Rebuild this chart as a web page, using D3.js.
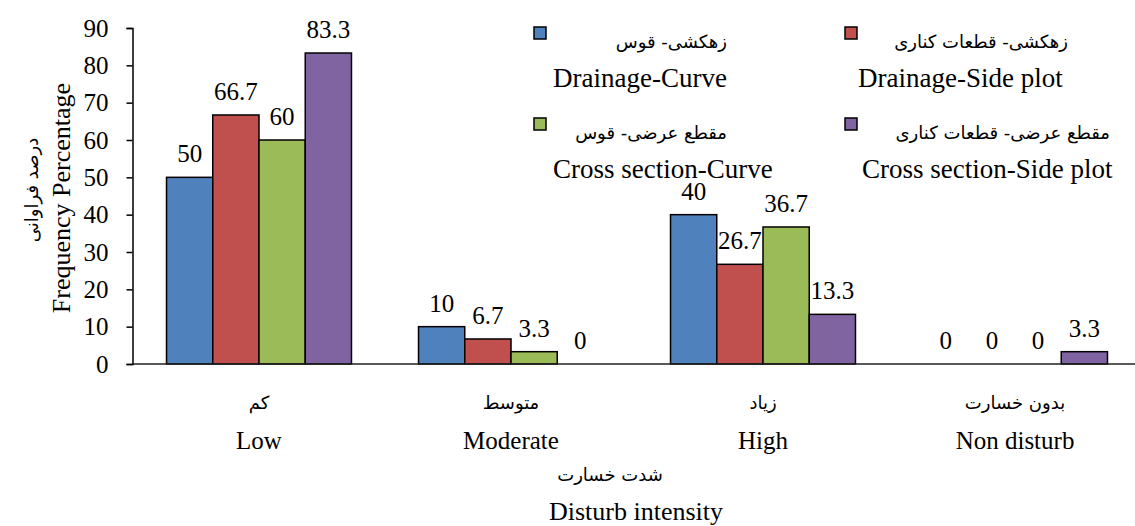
<!DOCTYPE html>
<html>
<head>
<meta charset="utf-8">
<title>Disturb intensity</title>
<script src="https://cdn.jsdelivr.net/npm/d3@7"></script>
<style>
    body { margin: 0; background: #fff; }
    .en { font-family: "Liberation Serif", "Times New Roman", serif; font-size: 25px; fill: #000; }
    .fa { font-family: "DejaVu Sans", sans-serif; font-size: 18px; fill: #000; }
</style>
</head>
<body>
<script>
    var w = 1135, h = 526
    // data
    var categories = ["Low", "Moderate", "High", "Non disturb"]
    var categoriesFa = ["کم", "متوسط", "زیاد", "بدون خسارت"]
    var seriesNames = ["Drainage-Curve", "Drainage-Side plot", "Cross section-Curve", "Cross section-Side plot"]
    var seriesNamesFa = ["زهکشی- قوس", "زهکشی- قطعات کناری", "مقطع عرضی- قوس", "مقطع عرضی- قطعات کناری"]
    var drainageCurve = [50, 10, 40, 0]
    var drainageSide = [66.7, 6.7, 26.7, 0]
    var crossCurve = [60, 3.3, 36.7, 0]
    var crossSide = [83.3, 0, 13.3, 3.3]
    var yTicks = [0, 10, 20, 30, 40, 50, 60, 70, 80, 90]
    var colors = ["#4F81BD", "#C0504D", "#9BBB59", "#8064A2"]

    var series = [drainageCurve, drainageSide, crossCurve, crossSide]
    var rows = []
    categories.forEach(function(c, i) {
        series.forEach(function(s, j) {
            rows.push({ cat: c, s: j, v: s[i] })
        })
    })

    var svg = d3.select("body").append("svg")
        .attr("width", w).attr("height", h)

    var x0 = d3.scaleBand().domain(categories).range([133, 1141])
        .paddingInner(0.266).paddingOuter(0.133)
    var x1 = d3.scaleBand().domain(d3.range(4)).range([0, x0.bandwidth()])
    var y = d3.scaleLinear().domain([0, 90]).range([364, 28])

    // bars
    svg.selectAll("rect.bar").data(rows).enter().append("rect")
        .attr("class", "bar")
        .attr("x", function(d) { return x0(d.cat) + x1(d.s) })
        .attr("y", function(d) { return y(d.v) })
        .attr("width", x1.bandwidth())
        .attr("height", function(d) { return y(0) - y(d.v) })
        .attr("fill", function(d) { return colors[d.s] })
        .attr("stroke", "#000")
        .attr("stroke-width", function(d) { return d.v > 0 ? 1.5 : 0 })

    // value labels
    svg.selectAll("text.val").data(rows).enter().append("text")
        .attr("class", "en val")
        .attr("text-anchor", "middle")
        .attr("x", function(d) { return x0(d.cat) + x1(d.s) + x1.bandwidth() / 2 })
        .attr("y", function(d) { return y(d.v) - 15 })
        .text(function(d) { return d.v })

    // y axis
    var yAxis = svg.append("g")
        .attr("transform", "translate(132.5,0)")
        .call(d3.axisLeft(y).tickValues(yTicks).tickSize(6).tickSizeOuter(6).tickPadding(18))
    yAxis.selectAll("path, line").attr("stroke", "#000").attr("stroke-width", 1.5)
    yAxis.selectAll("text").attr("class", "en").attr("font-size", null).attr("font-family", null)

    // x axis
    var xAxis = svg.append("g")
        .attr("transform", "translate(0," + y(0) + ")")
        .call(d3.axisBottom(x0).tickSize(0).tickSizeOuter(0).tickFormat(""))
    xAxis.select("path").attr("stroke", "#222").attr("stroke-width", 1.5)
    xAxis.select(".domain").attr("d", "M132.5,0H" + w)

    // category labels
    svg.selectAll("text.catfa").data(categories).enter().append("text")
        .attr("class", "fa catfa").attr("text-anchor", "middle")
        .attr("x", function(d) { return x0(d) + x0.bandwidth() / 2 })
        .attr("y", 409)
        .text(function(d, i) { return categoriesFa[i] })
    svg.selectAll("text.caten").data(categories).enter().append("text")
        .attr("class", "en caten").attr("text-anchor", "middle")
        .attr("x", function(d) { return x0(d) + x0.bandwidth() / 2 })
        .attr("y", 449)
        .text(function(d) { return d })

    // axis titles
    svg.append("text").attr("class", "fa").attr("text-anchor", "middle")
        .attr("x", 610).attr("y", 481).text("شدت خسارت")
    svg.append("text").attr("class", "en").attr("text-anchor", "middle")
        .style("font-size", "26px")
        .attr("x", 636).attr("y", 520).text("Disturb intensity")
    svg.append("text").attr("class", "en").attr("text-anchor", "middle")
        .style("font-size", "26px")
        .attr("transform", "translate(70,198) rotate(-90)").text("Frequency Percentage")
    svg.append("text").attr("class", "fa").attr("text-anchor", "middle")
        .attr("transform", "translate(38,190) rotate(-90)").text("درصد فراوانی")

    // legend
    var legX = [540, 851], legY = [33, 124]
    var faEnd = [727, 1068, 727, 1110]
    var enX = [553, 858, 553, 862]
    seriesNames.forEach(function(name, i) {
        var col = i % 2, row = Math.floor(i / 2)
        var g = svg.append("g")
        g.append("rect")
            .attr("x", legX[col] - 6).attr("y", legY[row] - 6)
            .attr("width", 12).attr("height", 12)
            .attr("fill", colors[i]).attr("stroke", "#000").attr("stroke-width", 1.5)
        g.append("text").attr("class", "fa").attr("text-anchor", "end")
            .attr("x", faEnd[i]).attr("y", legY[row] + 15)
            .text(seriesNamesFa[i])
        g.append("text").attr("class", "en")
            .style("font-size", "27px")
            .attr("x", enX[i]).attr("y", legY[row] + 54)
            .text(name)
    })
</script>
</body>
</html>
